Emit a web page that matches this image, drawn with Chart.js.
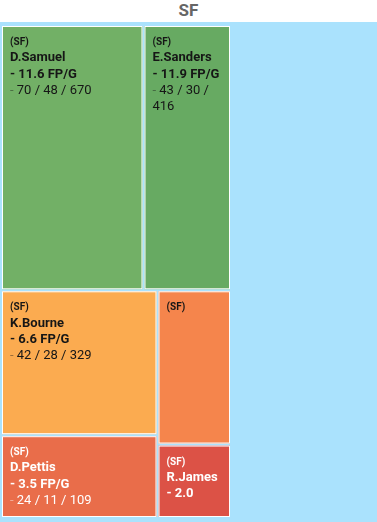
<!DOCTYPE html>
<html>
<head>
<meta charset="utf-8">
<script src="https://cdn.jsdelivr.net/npm/chart.js@4.4.1/dist/chart.umd.min.js"></script>
<style>
    html, body { margin: 0; padding: 0; background: #fff; }
    #title { height: 22px; line-height: 25px; text-align: center; font: bold 17px Roboto, sans-serif; color: #666666; }
    #panel { position: absolute; left: 0; top: 22px; width: 377px; height: 500px; background: #aae2fd; }
    #wrap { position: absolute; left: 0; top: 0; width: 232px; height: 500px; }
</style>
</head>
<body>
<div id="title">SF</div>
<div id="panel"><div id="wrap"><canvas id="tree"></canvas></div></div>
<script>
// team + players (targets size the cells)
const team = "SF";
const players = ["D.Samuel", "E.Sanders", "K.Bourne", "", "D.Pettis", "R.James"];
const targets = [70, 43, 42, 21, 24, 10];
const fpPerGame = [11.6, 11.9, 6.6, null, 3.5, 2.0];
const receptions = [48, 30, 28, null, 11, null];
const yards = [670, 416, 329, null, 109, null];

// how the cells are sliced: rows stack top to bottom, cols go left to right
const splits = ["rows", ["cols", 0, 1], ["cols", ["rows", 2, 4], ["rows", 3, 5]]];

const cellColors = ["#72b066", "#67aa62", "#fbab50", "#f5854c", "#e96d4a", "#dc5246"];
const textColors = ["#161616", "#161616", "#161616", "#161616", "#ffffff", "#ffffff"];

function nodeSum(node) {
    if (typeof node === "number") return targets[node];
    return node.slice(1).reduce((s, n) => s + nodeSum(n), 0);
}

// slice-and-dice in data units (0..1 on both axes)
function layout(node, x0, y0, x1, y1, out) {
    if (typeof node === "number") {
        out.push({ i: node, x0, y0, x1, y1 });
        return out;
    }
    const kids = node.slice(1);
    const total = nodeSum(node);
    let pos = node[0] === "rows" ? y0 : x0;
    kids.forEach(k => {
        const share = nodeSum(k) / total;
        if (node[0] === "rows") {
            const next = pos + (y1 - y0) * share;
            layout(k, x0, pos, x1, next, out);
            pos = next;
        } else {
            const next = pos + (x1 - x0) * share;
            layout(k, pos, y0, next, y1, out);
            pos = next;
        }
    });
    return out;
}

const cells = layout(splits, 0, 0, 1, 1, []);

function wrapWords(ctx, text, maxW) {
    const words = text.split(" ");
    const lines = [];
    let cur = "";
    words.forEach(w => {
        const test = cur ? cur + " " + w : w;
        if (cur && ctx.measureText(test).width > maxW) {
            lines.push(cur);
            cur = w;
        } else {
            cur = test;
        }
    });
    if (cur) lines.push(cur);
    return lines;
}

const treemapPlugin = {
    id: "treemapCells",
    afterDatasetsDraw(chart) {
        const ctx = chart.ctx;
        const xs = chart.scales.x, ys = chart.scales.y;
        cells.forEach(c => {
            const px0 = xs.getPixelForValue(c.x0), px1 = xs.getPixelForValue(c.x1);
            const py0 = ys.getPixelForValue(c.y0), py1 = ys.getPixelForValue(c.y1);
            const w = px1 - px0, h = py1 - py0;
            ctx.save();
            ctx.fillStyle = cellColors[c.i];
            ctx.fillRect(px0 + 1, py0 + 1, w - 2, h - 2);
            ctx.strokeStyle = "#ffffff";
            ctx.lineWidth = 1;
            ctx.strokeRect(px0 + 1.5, py0 + 1.5, w - 3, h - 3);

            // labels
            const tx = px0 + 9;
            const maxW = w - 18;
            const limit = py1 - 8;
            let base = py0 + 20;
            ctx.fillStyle = textColors[c.i];
            ctx.textBaseline = "alphabetic";
            ctx.font = "bold 10px Roboto, sans-serif";
            ctx.fillText("(" + team + ")", tx, base);

            const lines = [];
            if (players[c.i]) {
                ctx.font = "bold 13px Roboto, sans-serif";
                wrapWords(ctx, players[c.i], maxW).forEach(t => lines.push({ t, bold: true }));
            }
            if (fpPerGame[c.i] !== null) {
                ctx.font = "bold 13px Roboto, sans-serif";
                const fp = "- " + fpPerGame[c.i].toFixed(1) + " FP/G";
                wrapWords(ctx, fp, maxW).forEach(t => lines.push({ t, bold: true }));
            }
            if (receptions[c.i] !== null) {
                ctx.font = "13px Roboto, sans-serif";
                const st = "- " + targets[c.i] + " / " + receptions[c.i] + " / " + yards[c.i];
                wrapWords(ctx, st, maxW).forEach((t, k) => lines.push({ t, bold: false, dash: k === 0 }));
            }
            for (const ln of lines) {
                base += 16.3;
                if (base > limit) break;
                ctx.font = (ln.bold ? "bold " : "") + "13px Roboto, sans-serif";
                if (ln.dash) {
                    ctx.globalAlpha = 0.45;
                    ctx.fillText("-", tx, base);
                    ctx.globalAlpha = 1;
                    ctx.fillText(ln.t.slice(1), tx + ctx.measureText("-").width, base);
                } else {
                    ctx.fillText(ln.t, tx, base);
                }
            }
            ctx.restore();
        });
    }
};

new Chart(document.getElementById("tree"), {
    type: "scatter",
    data: { datasets: [{ data: [], pointRadius: 0 }] },
    options: {
        responsive: true,
        maintainAspectRatio: false,
        animation: false,
        layout: { padding: { left: 1, right: 1, top: 3, bottom: 4 } },
        scales: {
            x: { type: "linear", min: 0, max: 1, display: false },
            y: { type: "linear", min: 0, max: 1, reverse: true, display: false }
        },
        plugins: { legend: { display: false }, tooltip: { enabled: false } }
    },
    plugins: [treemapPlugin]
});
</script>
</body>
</html>
